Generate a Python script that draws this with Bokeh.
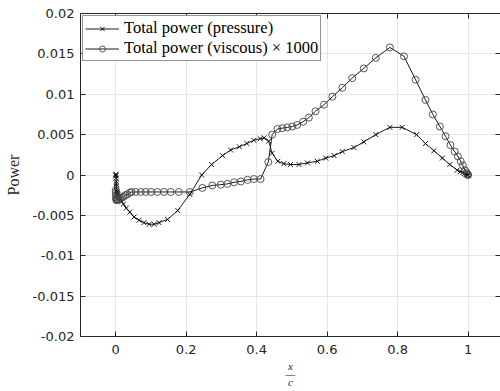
from bokeh.plotting import figure
from bokeh.models import (LinearAxis, FixedTicker, NumeralTickFormatter,
                          CustomJSTickFormatter, Range1d)
from bokeh.embed import file_html
from bokeh.resources import INLINE

# ---------------- data ----------------
press_x = [0.0000, 0.0002, 0.0005, 0.0008, 0.0012, 0.0016, 0.0020, 0.0025, 0.0030,
           0.0040, 0.0050, 0.0065, 0.0080, 0.0100, 0.0130, 0.0170, 0.0220, 0.0300,
           0.0400, 0.0520, 0.0660, 0.0800, 0.0950, 0.1090, 0.1230, 0.1470, 0.1760,
           0.2100, 0.2440, 0.2720, 0.3030, 0.3260, 0.3510, 0.3720, 0.3920, 0.4100,
           0.4210, 0.4340, 0.4440, 0.4600, 0.4770, 0.4960, 0.5200, 0.5440, 0.5720,
           0.5960, 0.6200, 0.6430, 0.6760, 0.7040, 0.7380, 0.7780, 0.8130, 0.8540,
           0.8790, 0.9030, 0.9270, 0.9480, 0.9690, 0.9780, 0.9850, 0.9900, 0.9940,
           0.9970, 0.9990, 1.0000]
press_y = [0.0000, -0.0001, 0.0001, -0.0004, -0.0008, -0.0011, -0.0014, -0.0017, -0.0019,
           -0.0021, -0.0023, -0.0024, -0.0026, -0.0028, -0.0030, -0.0033, -0.0036, -0.0041,
           -0.0046, -0.0052, -0.0056, -0.0059, -0.0061, -0.0061, -0.0059, -0.0055, -0.0044,
           -0.0024, 0.0000, 0.0013, 0.0024, 0.0031, 0.0035, 0.0039, 0.0043, 0.0045,
           0.0046, 0.0042, 0.0027, 0.0017, 0.0014, 0.0013, 0.0013, 0.0015, 0.0017,
           0.0021, 0.0024, 0.0029, 0.0034, 0.0041, 0.0050, 0.0059, 0.0059, 0.0050,
           0.0039, 0.0030, 0.0021, 0.0013, 0.0006, 0.0004, 0.0003, 0.0002, 0.0001,
           0.00005, 0.0000, 0.0000]

visc_x = [0.0000, 0.0003, 0.0007, 0.0010, 0.0015, 0.0020, 0.0030, 0.0050, 0.0080,
          0.0120, 0.0170, 0.0220, 0.0270, 0.0330, 0.0400, 0.0450, 0.0570, 0.0710,
          0.0850, 0.1000, 0.1180, 0.1370, 0.1560, 0.1790, 0.2100, 0.2460, 0.2740,
          0.2980, 0.3170, 0.3360, 0.3550, 0.3740, 0.3920, 0.4110, 0.4330, 0.4440,
          0.4590, 0.4730, 0.4870, 0.5010, 0.5150, 0.5320, 0.5480, 0.5670, 0.5910,
          0.6150, 0.6430, 0.6710, 0.7040, 0.7380, 0.7780, 0.8180, 0.8510, 0.8790,
          0.9000, 0.9200, 0.9360, 0.9500, 0.9620, 0.9710, 0.9790, 0.9850, 0.9910,
          0.9960, 0.9980, 0.9990, 1.0000]
visc_y = [-0.0019, -0.0022, -0.0025, -0.0028, -0.0030, -0.0031, -0.0031, -0.0030, -0.0030,
          -0.0029, -0.0028, -0.0027, -0.0025, -0.0024, -0.0022, -0.0021, -0.0021, -0.0021,
          -0.0021, -0.0021, -0.0021, -0.0021, -0.0021, -0.0021, -0.0021, -0.0016, -0.0013,
          -0.0012, -0.0011, -0.0009, -0.0008, -0.0006, -0.0005, -0.0005, 0.0016, 0.0050,
          0.0057, 0.0058, 0.0059, 0.0060, 0.0062, 0.0066, 0.0071, 0.0079, 0.0087,
          0.0097, 0.0108, 0.0120, 0.0132, 0.0145, 0.0158, 0.0147, 0.0118, 0.0093,
          0.0075, 0.0060, 0.0048, 0.0037, 0.0029, 0.0023, 0.0017, 0.0012, 0.0006,
          0.0003, 0.0001, 0.00005, 0.0000]

x_ticks = [0, 0.2, 0.4, 0.6, 0.8, 1]
y_ticks = [-0.02, -0.015, -0.01, -0.005, 0, 0.005, 0.01, 0.015, 0.02]

label_press = "Total power (pressure)"
label_visc = "Total power (viscous) \u00d7 1000"
x_label = "x\n\u2014\nc"
y_label = "Power"

# ---------------- figure ----------------
AX = "#262626"
TICK_FONT = "DejaVu Sans"
SERIF = "Liberation Serif"

p = figure(width=500, height=391, output_backend="svg", toolbar_location=None,
           x_range=Range1d(-0.1, 1.092), y_range=Range1d(-0.02, 0.02),
           min_border_left=80, min_border_right=0, min_border_top=13,
           min_border_bottom=55)
p.outline_line_color = None
p.background_fill_color = "white"

# line + markers
p.line(press_x, press_y, line_color="black", line_width=0.9, legend_label=label_press)
p.scatter(press_x, press_y, marker="x", size=7, line_color="black", line_width=0.9,
          legend_label=label_press)
p.line(visc_x, visc_y, line_color="black", line_width=0.9, legend_label=label_visc)
p.scatter(visc_x, visc_y, marker="circle", size=7, line_color="#444444", line_width=0.9,
          fill_color=None, legend_label=label_visc)

def style_axis(ax):
    ax.axis_line_color = AX
    ax.axis_line_width = 1
    ax.major_tick_line_color = AX
    ax.major_tick_in = 5
    ax.major_tick_out = 0
    ax.minor_tick_line_color = None
    ax.major_label_text_color = AX
    ax.major_label_text_font = TICK_FONT
    ax.major_label_text_font_size = "13px"

xt = FixedTicker(ticks=x_ticks)
yt = FixedTicker(ticks=y_ticks)

xa = p.xaxis[0]
xa.ticker = xt
xa.formatter = NumeralTickFormatter(format="0.[000]")
style_axis(xa)
xa.major_label_standoff = 8
xa.axis_label = x_label
xa.axis_label_text_font = SERIF
xa.axis_label_text_font_style = "italic"
xa.axis_label_text_font_size = "11px"
xa.axis_label_text_line_height = 0.7
xa.axis_label_text_color = AX
xa.axis_label_standoff = 3

ya = p.yaxis[0]
ya.ticker = yt
ya.formatter = NumeralTickFormatter(format="0.[000]")
style_axis(ya)
ya.major_label_standoff = 6
ya.axis_label = y_label
ya.axis_label_text_font = SERIF
ya.axis_label_text_font_style = "normal"
ya.axis_label_text_font_size = "16px"
ya.axis_label_text_color = AX
ya.axis_label_standoff = 8

blank = CustomJSTickFormatter(code="return ''")
top = LinearAxis(ticker=FixedTicker(ticks=x_ticks), formatter=blank)
style_axis(top)
top.major_label_standoff = 0
p.add_layout(top, "above")
right = LinearAxis(ticker=FixedTicker(ticks=y_ticks), formatter=blank)
style_axis(right)
right.major_label_standoff = 0
p.add_layout(right, "right")

p.xgrid.ticker = xt
p.ygrid.ticker = yt
p.xgrid.grid_line_color = "#e6e6e6"
p.ygrid.grid_line_color = "#e6e6e6"

# legend
lg = p.legend[0]
lg.location = "top_left"
lg.margin = 2
lg.padding = 2
lg.spacing = -4
lg.glyph_width = 34
lg.glyph_height = 15
lg.label_height = 15
lg.label_standoff = 5
lg.label_text_font = SERIF
lg.label_text_font_size = "16.5px"
lg.label_text_color = "black"
lg.border_line_color = AX
lg.border_line_width = 1
lg.background_fill_color = "white"
lg.background_fill_alpha = 1

open("out.html", "w").write(file_html(p, INLINE))
